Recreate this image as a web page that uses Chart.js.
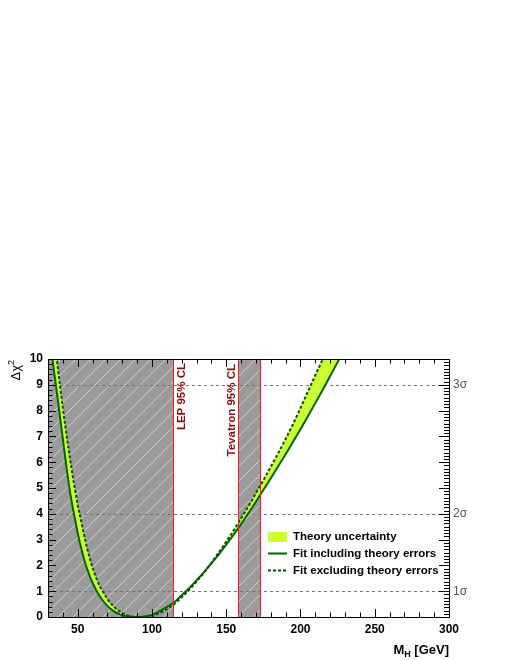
<!DOCTYPE html>
<html><head><meta charset="utf-8">
<script src="https://cdn.jsdelivr.net/npm/chart.js@4.4.0/dist/chart.umd.min.js"></script>
<style>html,body{margin:0;padding:0;background:#fff;}canvas{display:block;}</style>
</head><body>
<canvas id="c" width="510" height="660"></canvas>
<script>
// ---- data ----
const massGrid = [30,32,34,36,38,40,42,44,46,48,50,52,55,58,61,64,67,70,74,78,82,86,90,94,98,102,106,110,115,120,125,130,135,140,145,150,155,160,165,170,175,180,185,190,195,200,205,210,215,220,225,230];
const fitWithTheory = [11.2,10.4,9.55,8.7,7.8,6.9,6.0,5.15,4.45,3.85,3.25,2.75,2.1,1.6,1.2,0.88,0.63,0.43,0.24,0.11,0.04,0.005,0,0.01,0.05,0.13,0.25,0.38,0.57,0.84,1.12,1.42,1.74,2.08,2.43,2.8,3.19,3.6,4.03,4.47,4.92,5.38,5.84,6.31,6.79,7.28,7.78,8.29,8.81,9.34,9.88,10.43];
const fitWithoutTheory = [13.0,12.0,10.95,9.95,9.0,8.1,7.25,6.45,5.7,5.0,4.35,3.8,3.0,2.3,1.75,1.3,0.98,0.7,0.42,0.22,0.09,0.02,0,0,0.02,0.08,0.18,0.3,0.5,0.76,1.05,1.37,1.72,2.1,2.5,2.92,3.36,3.82,4.3,4.8,5.3,5.82,6.35,6.9,7.48,8.1,8.74,9.37,9.99,10.62,11.25,11.9];
const xTickValues = [50,100,150,200,250,300];
const yTickValues = [0,1,2,3,4,5,6,7,8,9,10];
const sigmaLevels = [1,4,9];
const sigmaLabels = ['1σ','2σ','3σ'];
const lepExcluded = [30,114.4];
const tevatronExcluded = [158,173];
const seriesLabels = ['Theory uncertainty','Fit including theory errors','Fit excluding theory errors'];
const lepText = 'LEP 95% CL';
const tevText = 'Tevatron 95% CL';

const FONT = "'Liberation Sans', Arial, Helvetica, sans-serif";
const BAND = '#ccff33', SOLID = '#006400', DASH = '#0b4d0b', GRAY = '#9b9b9b', RED = '#ff1a1a', DRED = '#8c0a0a';

const pts = arr => massGrid.map((m,i)=>({x:m,y:arr[i]}));

const hatchCanvas = (()=>{const c=document.createElement('canvas');c.width=15;c.height=15;const g=c.getContext('2d');
  g.strokeStyle='rgba(255,255,255,0.5)';g.lineWidth=1;g.beginPath();g.moveTo(-2,17);g.lineTo(17,-2);g.stroke();return c;})();

const decor = {
  id:'decor',
  beforeDraw(chart){
    const {ctx, chartArea:a, scales:{x,y}} = chart;
    ctx.save();
    const pat = ctx.createPattern(hatchCanvas,'repeat');
    [lepExcluded, tevatronExcluded].forEach(r=>{
      const p1=x.getPixelForValue(r[0]), p2=x.getPixelForValue(r[1]);
      ctx.fillStyle=GRAY; ctx.fillRect(p1,a.top,p2-p1,a.bottom-a.top);
      ctx.fillStyle=pat; ctx.fillRect(p1,a.top,p2-p1,a.bottom-a.top);
    });
    ctx.strokeStyle='#777'; ctx.lineWidth=1; ctx.setLineDash([3,3]);
    sigmaLevels.forEach(v=>{const py=Math.round(y.getPixelForValue(v))+0.5;ctx.beginPath();ctx.moveTo(a.left,py);ctx.lineTo(a.right,py);ctx.stroke();});
    ctx.restore();
  },
  afterDatasetsDraw(chart){
    const {ctx, chartArea:a, scales:{x}} = chart;
    ctx.save(); ctx.strokeStyle=RED; ctx.lineWidth=1;
    [lepExcluded[1], tevatronExcluded[0], tevatronExcluded[1]].forEach(v=>{
      const px=Math.round(x.getPixelForValue(v))+0.5; ctx.beginPath(); ctx.moveTo(px,a.top); ctx.lineTo(px,a.bottom); ctx.stroke();});
    ctx.fillStyle=DRED; ctx.font='bold 11.5px '+FONT; ctx.textAlign='right'; ctx.textBaseline='alphabetic';
    ctx.save(); ctx.translate(x.getPixelForValue(lepExcluded[1])+12, a.top+4); ctx.rotate(-Math.PI/2); ctx.fillText(lepText,0,0); ctx.restore();
    ctx.save(); ctx.translate(x.getPixelForValue(tevatronExcluded[0])-3, a.top+5); ctx.rotate(-Math.PI/2); ctx.fillText(tevText,0,0); ctx.restore();
    ctx.restore();
  },
  afterDraw(chart){
    const {ctx, chartArea:a, scales:{x,y}} = chart;
    ctx.save();
    ctx.strokeStyle='#000'; ctx.lineWidth=1; ctx.setLineDash([]);
    ctx.beginPath();
    for(let v=30; v<=300; v+=10){
      const px=Math.round(x.getPixelForValue(v))+0.5; const L = (v%50===0)?8:4.5;
      ctx.moveTo(px,a.bottom); ctx.lineTo(px,a.bottom-L);
      ctx.moveTo(px,a.top); ctx.lineTo(px,a.top+L);
    }
    for(let i=0;i<=50;i++){
      const v=i*0.2; const py=Math.round(y.getPixelForValue(v))+0.5; const L=(i%5===0)?8:4.5;
      ctx.moveTo(a.left,py); ctx.lineTo(a.left+L,py);
    }
    for(let i=0;i<=80;i++){
      const v=i*0.125; const py=Math.round(y.getPixelForValue(v))+0.5; const L=(i%8===0)?10:5;
      ctx.moveTo(a.right,py); ctx.lineTo(a.right-L,py);
    }
    ctx.stroke();
    ctx.strokeRect(Math.round(a.left)+0.5, Math.round(a.top)+0.5, Math.round(a.right-a.left), Math.round(a.bottom-a.top));
    // axis titles
    ctx.fillStyle='#000'; ctx.textBaseline='alphabetic';
    ctx.font='bold 13px '+FONT; ctx.textAlign='left';
    const t1='M', t2='H', t3=' [GeV]';
    const w1=ctx.measureText(t1).width, w3=ctx.measureText(t3).width;
    ctx.font='bold 9px '+FONT; const w2=ctx.measureText(t2).width;
    let sx=a.right-(w1+w2+w3);
    ctx.font='bold 13px '+FONT; ctx.fillText(t1,sx,654);
    ctx.font='bold 9px '+FONT; ctx.fillText(t2,sx+w1,657);
    ctx.font='bold 13px '+FONT; ctx.fillText(t3,sx+w1+w2,654);
    ctx.save(); ctx.translate(20, a.top); ctx.rotate(-Math.PI/2);
    ctx.font='13px '+FONT; const d1='Δχ'; const dw=ctx.measureText(d1).width;
    ctx.font='9px '+FONT; const sw=ctx.measureText('2').width;
    ctx.font='13px '+FONT; ctx.textAlign='left'; ctx.fillText(d1,-(dw+sw)-1,0);
    ctx.font='9px '+FONT; ctx.fillText('2',-sw-1,-6);
    ctx.restore();
    // legend
    const ds=chart.data.datasets;
    ctx.fillStyle=ds[0].backgroundColor; ctx.fillRect(268,532,19,10);
    ctx.lineWidth=2; ctx.strokeStyle=ds[1].borderColor; ctx.beginPath(); ctx.moveTo(268,553.5); ctx.lineTo(287,553.5); ctx.stroke();
    ctx.strokeStyle=ds[2].borderColor; ctx.setLineDash([3,2]); ctx.beginPath(); ctx.moveTo(268,570.5); ctx.lineTo(287,570.5); ctx.stroke(); ctx.setLineDash([]);
    ctx.fillStyle='#000'; ctx.font='bold 11.5px '+FONT; ctx.textBaseline='middle'; ctx.textAlign='left';
    ctx.fillText(ds[0].label,293,537); ctx.fillText(ds[1].label,293,553.5); ctx.fillText(ds[2].label,293,570.5);
    ctx.restore();
  }
};

new Chart(document.getElementById('c'), {
  type:'line',
  data:{datasets:[
    {label:seriesLabels[0], data:pts(fitWithoutTheory), borderWidth:0, borderColor:'rgba(0,0,0,0)', backgroundColor:BAND, fill:{target:1}, pointRadius:0, order:2, cubicInterpolationMode:'monotone'},
    {label:seriesLabels[1], data:pts(fitWithTheory), borderWidth:2, borderColor:SOLID, fill:false, pointRadius:0, order:1, cubicInterpolationMode:'monotone'},
    {label:seriesLabels[2], data:pts(fitWithoutTheory), borderWidth:2, borderColor:DASH, borderDash:[3,2], fill:false, pointRadius:0, order:0, cubicInterpolationMode:'monotone'}
  ]},
  options:{
    responsive:false, animation:false, events:[],
    layout:{padding:{top:359,left:0,right:0,bottom:0}},
    plugins:{legend:{display:false}, tooltip:{enabled:false}, filler:{drawTime:'beforeDatasetsDraw'}},
    scales:{
      x:{type:'linear', position:'bottom', min:30, max:300,
        afterBuildTicks:s=>{s.ticks=xTickValues.map(v=>({value:v}));},
        afterFit:s=>{s.height=43;},
        grid:{display:false, drawTicks:false}, border:{display:false},
        ticks:{color:'#000', font:{family:FONT, size:12, weight:'bold'}, padding:5, maxRotation:0}},
      y:{type:'linear', position:'left', min:0, max:10,
        afterBuildTicks:s=>{s.ticks=yTickValues.map(v=>({value:v}));},
        afterFit:s=>{s.width=48;},
        grid:{display:false, drawTicks:false}, border:{display:false},
        ticks:{color:'#000', font:{family:FONT, size:12, weight:'bold'}, padding:5}},
      y2:{type:'linear', position:'right', min:0, max:10,
        afterBuildTicks:s=>{s.ticks=sigmaLevels.map(v=>({value:v}));},
        afterFit:s=>{s.width=61;},
        grid:{display:false, drawTicks:false}, border:{display:false},
        ticks:{color:'#555', font:{family:FONT, size:12}, padding:4, callback:v=>sigmaLabels[sigmaLevels.indexOf(v)]}}
    }
  },
  plugins:[decor]
});
</script>
</body></html>
